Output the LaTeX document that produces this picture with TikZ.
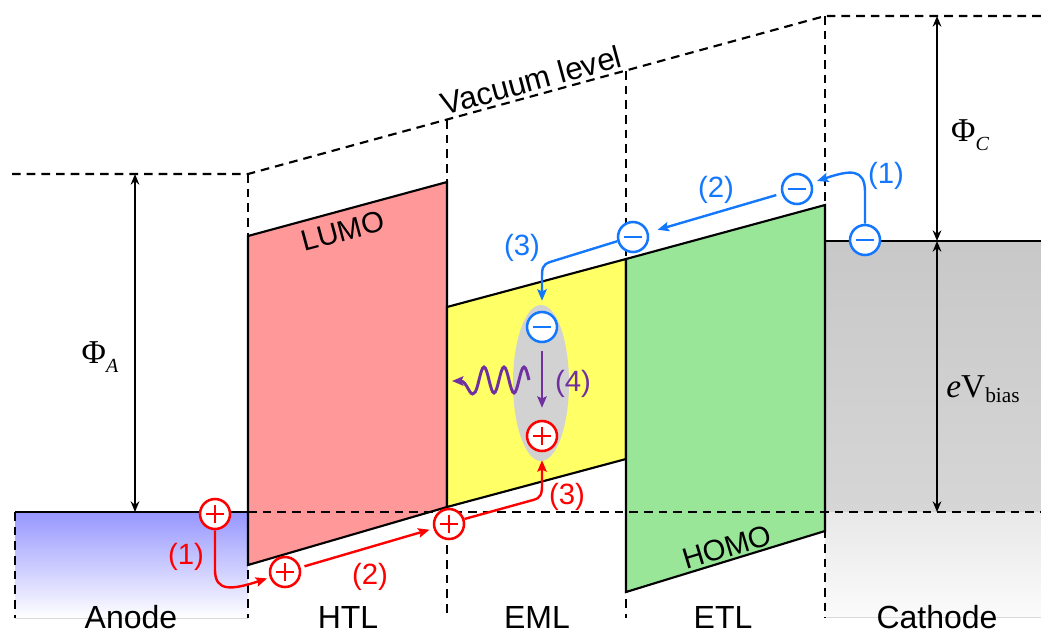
\documentclass[tikz,border=0pt]{standalone}
\usepackage[no-math]{fontspec}
\setmainfont{Liberation Sans}
\newfontfamily\seriff{Liberation Serif}
\usetikzlibrary{arrows.meta}

\definecolor{myred}{RGB}{255,0,0}
\definecolor{myblue}{RGB}{20,120,255}
\definecolor{mypurple}{RGB}{112,48,160}
\definecolor{htlcol}{RGB}{255,153,153}
\definecolor{emlcol}{RGB}{255,255,102}
\definecolor{etlcol}{RGB}{153,230,153}
\definecolor{ellcol}{RGB}{210,210,210}
\definecolor{anodetop}{RGB}{150,150,255}
\definecolor{cathA}{RGB}{200,200,200}
\definecolor{cathB}{RGB}{214,214,214}
\definecolor{cathC}{RGB}{232,232,232}
\definecolor{cathD}{RGB}{251,251,251}

\newcommand\wfn[1]{{\seriff\fontsize{25}{28}\selectfont Φ\raisebox{-7pt}{\fontsize{15}{15}\selectfont\itshape #1}}}

\begin{document}
\begin{tikzpicture}[x=0.75pt,y=-0.75pt,
  dashedline/.style={black, line width=1.6pt, dash pattern=on 6.5pt off 4.5pt},
  solidline/.style={black, line width=1.6pt},
  layer/.style={draw=black, line width=1.6pt, line join=miter},
  dimarrow/.style={black, line width=1.6pt, {Stealth[length=8pt,width=6.5pt]}-{Stealth[length=8pt,width=6.5pt]}},
  carrier/.style={circle, fill=white, line width=1.9pt, minimum size=22.5pt, inner sep=0pt},
  hole/.style={carrier, draw=myred, path picture={
     \draw[myred, line width=1.9pt] ([xshift=-7pt]path picture bounding box.center) -- ([xshift=7pt]path picture bounding box.center);
     \draw[myred, line width=1.9pt] ([yshift=-7pt]path picture bounding box.center) -- ([yshift=7pt]path picture bounding box.center);}},
  elec/.style={carrier, draw=myblue, path picture={
     \draw[myblue, line width=1.9pt] ([xshift=-7pt]path picture bounding box.center) -- ([xshift=7pt]path picture bounding box.center);}},
  redarr/.style={myred, line width=1.8pt, -{Stealth[length=8.5pt,width=7pt,inset=1.5pt]}},
  bluearr/.style={myblue, line width=1.8pt, -{Stealth[length=8.5pt,width=7pt,inset=1.5pt]}},
  purparr/.style={mypurple, line width=2.2pt, -{Stealth[length=8.5pt,width=7pt,inset=1.5pt]}},
  lbl/.style={font=\fontsize{22}{26}\selectfont, inner sep=0pt},
  layerlbl/.style={font=\fontsize{24}{28}\selectfont, inner sep=0pt, anchor=base, text depth=0pt},
  bandlbl/.style={font=\fontsize{22}{26}\selectfont, inner sep=0pt}
]
\useasboundingbox (0,0) rectangle (1041,633);

% electrode backgrounds
\shade[top color=anodetop, bottom color=white] (15,512) rectangle (248,618);
\shade[top color=cathA, bottom color=cathB] (825,241) rectangle (1041,512);
\shade[top color=cathC, bottom color=cathD] (825,512) rectangle (1041,617);
\draw[black!15, line width=0.5pt] (15,618) -- (248,618);
\draw[black!15, line width=0.5pt] (825,617) -- (1041,617);

% vertical dashed boundaries
\draw[dashedline] (15,512) -- (15,618);
\draw[dashedline] (248,174) -- (248,618);
\draw[dashedline] (447,120) -- (447,618);
\draw[dashedline] (626,71) -- (626,618);
\draw[dashedline] (825,16) -- (825,618);

% vacuum level
\draw[dashedline] (12,174) -- (248,174) -- (825,16) -- (1041,16);
\node[font=\fontsize{23.5}{28}\selectfont, inner sep=0pt, anchor=base, rotate=15.3] (vac) at (534,91) {Vacuum level};

% layers
\path[layer, fill=htlcol] (248,236) -- (447,182) -- (447,507) -- (248,565) -- cycle;
\path[layer, fill=emlcol] (447,307) -- (626,259) -- (626,459) -- (447,507) -- cycle;
\path[layer, fill=etlcol] (626,259) -- (825,205) -- (825,531) -- (626,592) -- cycle;
\node[bandlbl, rotate=15] (lumo) at (343,231) {LUMO};
\node[bandlbl, rotate=16.8] (homo) at (727,547) {HOMO};

% Fermi levels
\draw[dashedline] (248,512) -- (1041,512);
\draw[solidline] (15,512) -- (248,512);
\draw[solidline] (825,241) -- (1041,241);

% dimension arrows
\coordinate (phiAtop) at (135,174);
\coordinate (phiAbot) at (135,512);
\draw[dimarrow] (phiAtop) -- (phiAbot);
\node (phiA) at (100,357) {\wfn{A}};
\coordinate (phiCtop) at (937,16);
\coordinate (phiCbot) at (937,241);
\coordinate (biasbot) at (937,512);
\draw[dimarrow] (phiCtop) -- (phiCbot);
\draw[dimarrow] (phiCbot) -- (biasbot);
\node (phiC) at (970,135) {\wfn{C}};
\node (ebias) at (983,389) {\seriff\fontsize{25}{28}\selectfont\itshape e\upshape V\raisebox{-4pt}{\fontsize{16}{16}\selectfont bias}};

% exciton ellipse
\fill[ellcol] (541,383) ellipse [x radius=28, y radius=78];

% carriers
\node[hole] (p1) at (215,514) {};
\node[hole] (p2) at (285,572) {};
\node[hole] (p3) at (449,524) {};
\node[hole] (p4) at (542,436) {};
\node[elec] (n1) at (865,240) {};
\node[elec] (n2) at (797,189) {};
\node[elec] (n3) at (633,237) {};
\node[elec] (n4) at (542,327) {};
\coordinate (b1end) at (817,181);

% hole path
\draw[redarr, shorten >=2pt] (p1.south) -- (215,570) .. controls (215,592) and (232,590) .. (p2.200);
\draw[redarr, shorten <=3pt, shorten >=3pt] (p2) -- (p3);
\draw[redarr, shorten >=6pt] (p3.18) -- (533,500) .. controls (541,498) and (542,494) .. (542,484) -- (p4.south);

% electron path
\draw[bluearr] (n1.north) -- (865,192) .. controls (865,168) and (850,170) .. (b1end);
\draw[bluearr, shorten <=4pt, shorten >=7pt] (n2) -- (n3);
\draw[bluearr, shorten >=7.5pt] (n3.195) -- (550,262) .. controls (542,265) and (542,268) .. (542,280) -- (n4.north);

% recombination
\draw[purparr, shorten <=6pt, shorten >=9pt] (n4.south) -- (p4.north);
\coordinate (wavestart) at (529,380);
\coordinate (waveend) at (452,381);
\draw[purparr] (wavestart) sin (524,367) cos (519,380) sin (514,393) cos (509,380)
  sin (504,367) cos (499,380) sin (494,393) cos (489,380)
  sin (484,367) cos (479,380) sin (474,393) .. controls (470,398) and (467,381) .. (waveend);

% step labels
\node[lbl, text=myred] (r1) at (186,557) {(1)};
\node[lbl, text=myred] (r2) at (370,577) {(2)};
\node[lbl, text=myred] (r3) at (567,497) {(3)};
\node[lbl, text=myblue] (b1) at (886,176) {(1)};
\node[lbl, text=myblue] (b2) at (716,190) {(2)};
\node[lbl, text=myblue] (b3) at (522,248) {(3)};
\node[lbl, text=mypurple] (l4) at (573,384) {(4)};

% layer names
\node[layerlbl] (anode) at (131,628) {Anode};
\node[layerlbl] (htl) at (348,628) {HTL};
\node[layerlbl] (eml) at (537,628) {EML};
\node[layerlbl] (etl) at (723,628) {ETL};
\node[layerlbl] (cathode) at (937,628) {Cathode};
\end{tikzpicture}
\end{document}
